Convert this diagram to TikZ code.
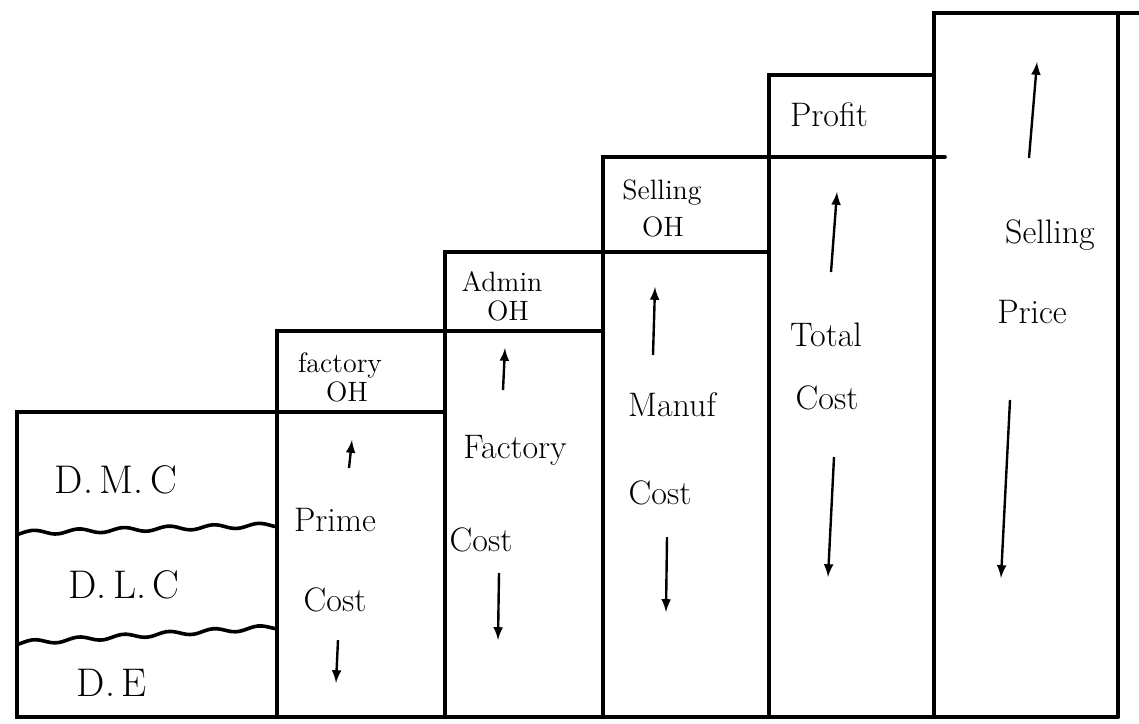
\documentclass[tikz,border=0pt]{standalone}
\tikzset{>=latex}
\tikzstyle{box}=[line width=1.8pt,line cap=round]
\tikzstyle{flow}=[->,line width=1.2pt]
\tikzstyle{small}=[inner sep=0pt,font=\fontsize{14}{16}\selectfont]
\tikzstyle{big}=[inner sep=0pt,font=\fontsize{17}{20}\selectfont]
\tikzstyle{part}=[inner sep=0pt,font=\fontsize{20}{24}\selectfont]
\def\wave#1#2{\draw[box,smooth,samples=70,variable=\x,domain=17:277]
    plot(\x,{#1+(#2-#1)*(\x-17)/260+2.2*sin(8*\x)})}

\begin{document}
\begin{tikzpicture}[x=0.5pt,y=-0.5pt]
  \useasboundingbox (0,0) rectangle (1139,723);
  % staircase of costs
  \draw[box] (17,717) rectangle (277,412);
  \foreach \xa/\xb/\yt/\ys in {277/445/331/412,445/603/252/331,603/769/157/252,769/934/75/157}
    \draw[box] (\xa,717) -- (\xa,\yt) -- (\xb,\yt) -- (\xb,717) (\xa,\ys) -- (\xb,\ys);
  \draw[box] (934,157) -- (945,157);
  \draw[box] (934,717) -- (934,13) -- (1139,13) (1118,13) -- (1118,717);
  \draw[box] (17,717) -- (1118,717);
  \wave{533}{525};
  \wave{643}{627};
  % first column
  \node[part] (dmc) at (116,480) {D.\,M.\,C};
  \node[part] (dlc) at (124,585) {D.\,L.\,C};
  \node[part] (de)  at (112,683) {D.\,E};
  % overheads and profit
  \node[small] (foh1) at (340,365) {factory};
  \node[small] (foh2) at (347,392) {OH};
  \node[small] (aoh1) at (502,282) {Admin};
  \node[small] (aoh2) at (508,311) {OH};
  \node[small] (soh1) at (662,193) {Selling};
  \node[small] (soh2) at (663,227) {OH};
  \node[big] (profit) at (829,115) {Profit};
  % totals
  \node[big] (pc1) at (335,520) {Prime};
  \node[big] (pc2) at (335,600) {Cost};
  \node[big] (fc1) at (515,450) {Factory};
  \node[big] (fc2) at (481,540) {Cost};
  \node[big] (mc1) at (672,405) {Manuf};
  \node[big] (mc2) at (660,493) {Cost};
  \node[big] (tc1) at (826,335) {Total};
  \node[big] (tc2) at (827,398) {Cost};
  \node[big] (sp1) at (1050,235) {Selling};
  \node[big] (sp2) at (1032,312) {Price};
  % up and down arrows
  \foreach \n/\xa/\ya/\xb/\yb in {pcu/349/468/352/440,pcd/338/640/336/683,
      fcu/503/390/505/348,fcd/499/573/498/640,mcu/653/355/655/287,mcd/667/537/666/612,
      tcu/831/272/837/192,tcd/834/457/828/577,spu/1029/158/1037/62,spd/1010/400/1001/578}{
    \coordinate (\n-a) at (\xa,\ya);
    \coordinate (\n-b) at (\xb,\yb);
    \draw[flow] (\n-a) -- (\n-b);
  }
\end{tikzpicture}
\end{document}
